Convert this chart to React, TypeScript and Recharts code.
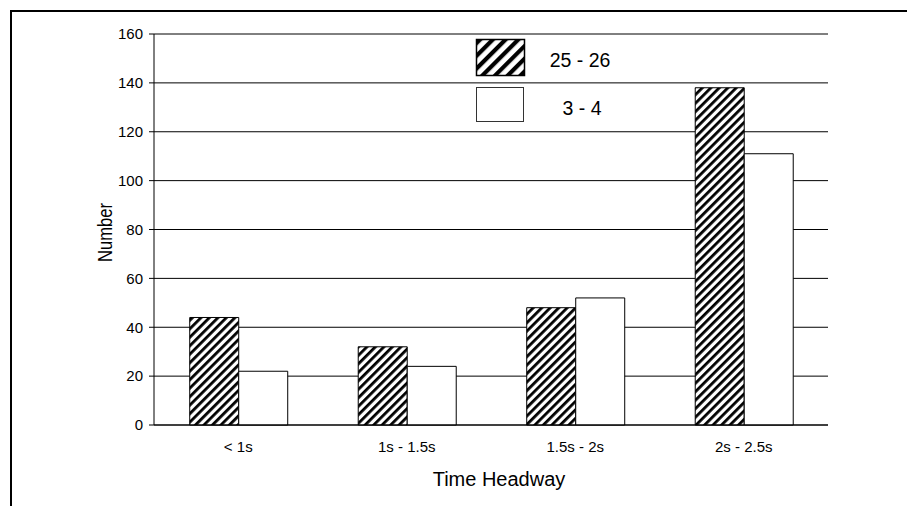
import React from 'react';
import { BarChart, Bar, XAxis, YAxis, CartesianGrid, Legend } from 'recharts';

const categories = ['< 1s', '1s - 1.5s', '1.5s - 2s', '2s - 2.5s'];
const seriesNames = ['25 - 26', '3 - 4'];
const values2526 = [44, 32, 48, 138];
const values34 = [22, 24, 52, 111];
const yTicks = [0, 20, 40, 60, 80, 100, 120, 140, 160];
const edgeTicks = [0, 1, 2, 3, 4];

// "slot" is the category's centre on a 0..4 numeric scale, used by the
// boundary-tick axis so its ticks fall between the categories.
const data = categories.map((name, i) => ({
  name,
  slot: i + 0.5,
  a: values2526[i],
  b: values34[i],
}));

const FONT = '"Liberation Sans", Arial, Helvetica, sans-serif';

const LegendBox = () => (
  <svg width={180} height={96} style={{ display: 'block', overflow: 'visible' }}>
    <defs>
      <pattern id="legendHatch" patternUnits="userSpaceOnUse" width={9} height={9} patternTransform="rotate(45)">
        <rect x={0} y={0} width={9} height={9} fill="#fff" />
        <rect x={0} y={0} width={4.2} height={9} fill="#000" />
      </pattern>
    </defs>
    <rect x={6.5} y={5.5} width={48} height={36} fill="url(#legendHatch)" stroke="#000" strokeWidth={1.5} />
    <text x={110} y={28} textAnchor="middle" dominantBaseline="middle" fontFamily={FONT} fontSize={19.5} fill="#000">
      {seriesNames[0]}
    </text>
    <rect x={6.5} y={53.5} width={47} height={34} fill="#fff" stroke="#333" strokeWidth={1} />
    <text x={112} y={76} textAnchor="middle" dominantBaseline="middle" fontFamily={FONT} fontSize={19.5} fill="#000">
      {seriesNames[1]}
    </text>
  </svg>
);

const XTitle = ({ viewBox }: any) => (
  <text
    x={viewBox.x + viewBox.width / 2 + 8}
    y={viewBox.y + viewBox.height - 9}
    textAnchor="middle"
    fontFamily={FONT}
    fontSize={20}
    fill="#000"
  >
    Time Headway
  </text>
);

const YTitle = ({ viewBox }: any) => {
  const cx = viewBox.x + 97;
  const cy = viewBox.y + viewBox.height / 2 + 3;
  return (
    <text
      x={0}
      y={0}
      transform={`translate(${cx}, ${cy}) rotate(-90) scale(0.83, 1)`}
      textAnchor="middle"
      dominantBaseline="central"
      fontFamily={FONT}
      fontSize={20}
      fill="#000"
    >
      Number
    </text>
  );
};

export default function App() {
  return (
    <div style={{ position: 'relative', width: 907, height: 498, overflow: 'hidden', background: '#fff' }}>
      <div
        style={{
          position: 'absolute',
          left: 2,
          top: 2,
          width: 1000,
          height: 1000,
          borderLeft: '2px solid #000',
          borderTop: '2px solid #000',
          boxSizing: 'border-box',
        }}
      />
      <BarChart
        width={907}
        height={498}
        data={data}
        margin={{ top: 26, right: 87, bottom: 11, left: 0 }}
        barCategoryGap="21.2%"
        barGap={0}
        style={{ position: 'absolute', left: 0, top: 0, fontFamily: FONT }}
      >
        <defs>
          <pattern id="barHatch" patternUnits="userSpaceOnUse" width={6} height={6} patternTransform="rotate(45)">
            <rect x={0} y={0} width={6} height={6} fill="#fff" />
            <rect x={0} y={0} width={2.8} height={6} fill="#000" />
          </pattern>
        </defs>
        {/* Category labels (sits below the base axis) */}
        <XAxis
          xAxisId="labels"
          dataKey="name"
          height={69}
          axisLine={false}
          tickLine={false}
          tickSize={0}
          tickMargin={15}
          tick={{ fill: '#000', fontSize: 15 }}
          interval={0}
          label={<XTitle />}
        />
        {/* Axis line plus tick marks at the category boundaries */}
        <XAxis
          xAxisId="base"
          dataKey="slot"
          type="number"
          domain={[0, 4]}
          ticks={edgeTicks}
          tick={false}
          axisLine={{ stroke: '#000' }}
          tickLine={{ stroke: '#000' }}
          tickSize={5}
          height={1}
          allowDataOverflow
        />
        <YAxis
          yAxisId="left"
          domain={[0, 160]}
          ticks={yTicks}
          width={146}
          axisLine={{ stroke: '#000' }}
          tickLine={{ stroke: '#000' }}
          tickSize={5}
          tickMargin={6}
          tick={{ fill: '#000', fontSize: 15 }}
          label={<YTitle />}
        />
        <YAxis
          yAxisId="right"
          orientation="right"
          domain={[0, 160]}
          ticks={yTicks}
          width={0}
          axisLine={{ stroke: '#808080' }}
          tickLine={false}
          tick={false}
        />
        <CartesianGrid xAxisId="labels" yAxisId="left" horizontal vertical={false} stroke="#000" />
        <Legend
          layout="vertical"
          align="center"
          verticalAlign="middle"
          content={() => <LegendBox />}
          wrapperStyle={{ left: 462, top: 26, width: 180, height: 96 }}
        />
        <Bar
          xAxisId="labels"
          yAxisId="left"
          dataKey="a"
          name={seriesNames[0]}
          fill="url(#barHatch)"
          stroke="#000"
          strokeWidth={1}
          isAnimationActive={false}
        />
        <Bar
          xAxisId="labels"
          yAxisId="left"
          dataKey="b"
          name={seriesNames[1]}
          fill="#fff"
          stroke="#000"
          strokeWidth={1}
          isAnimationActive={false}
        />
      </BarChart>
    </div>
  );
}
